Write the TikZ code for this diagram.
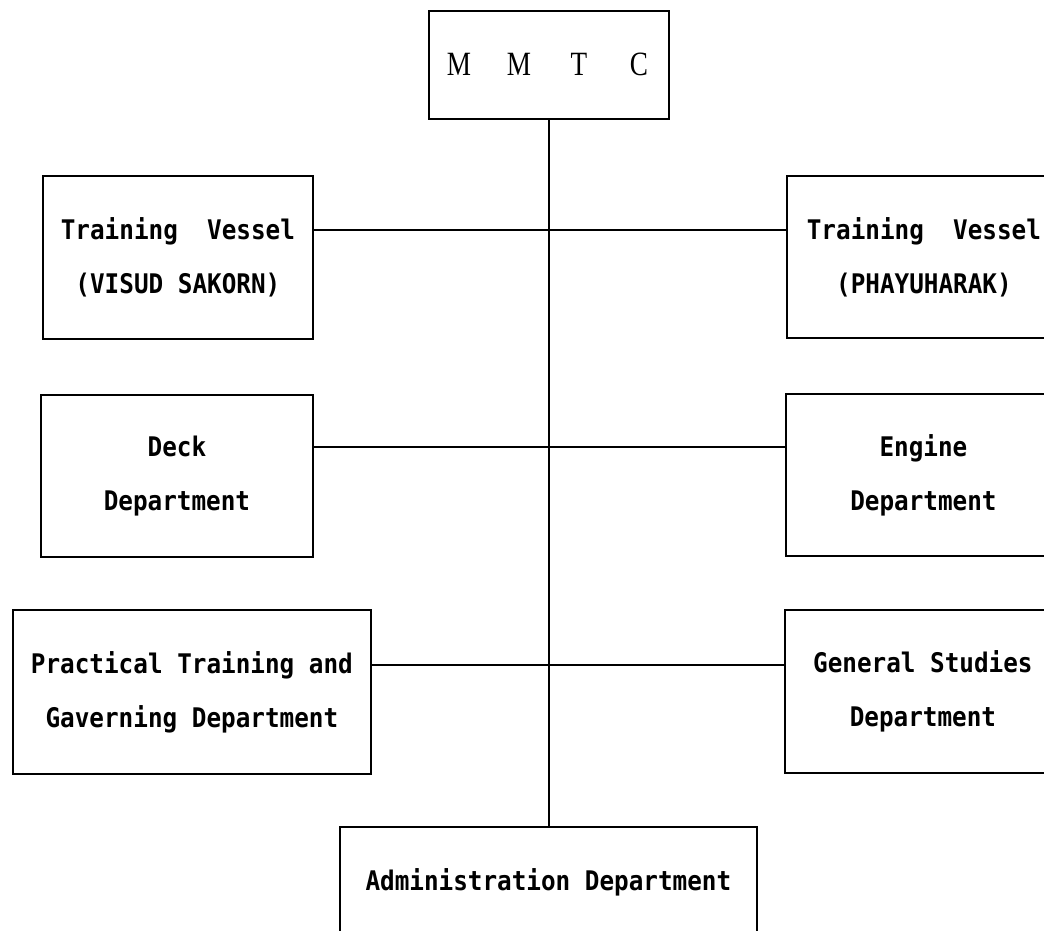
\documentclass[tikz,border=0pt]{standalone}
\usepackage{fontspec}
\newfontfamily\boxfont[FakeStretch=0.9]{DejaVu Sans Mono}
\newfontfamily\titlefont[FakeStretch=0.8]{Liberation Serif}
\begin{document}
\begin{tikzpicture}[x=1pt,y=-1pt,
  box/.style={draw, line width=1.8pt, anchor=north west, inner sep=0pt, align=center,
              font=\boxfont\bfseries\fontsize{27}{54}\selectfont},
  link/.style={line width=1.2pt}]
\useasboundingbox (0,0) rectangle (1044,930);
\clip (0,0) rectangle (1044,930);
\node[box, minimum width=240pt, minimum height=108pt,
      font=\titlefont\fontsize{34}{40}\selectfont] (mmtc) at (428,10)
  {\makebox[60pt]{M}\makebox[60pt]{M}\makebox[60pt]{T}\makebox[60pt]{C}};
\node[box, minimum width=270pt, minimum height=163pt] (tv1) at (42,175)
  {Training\ \ Vessel\\(VISUD SAKORN)};
\node[box, minimum width=274pt, minimum height=162pt] (tv2) at (786,175)
  {Training\ \ Vessel\\(PHAYUHARAK)};
\node[box, minimum width=272pt, minimum height=162pt] (deck) at (40,394)
  {Deck\\Department};
\node[box, minimum width=275pt, minimum height=162pt] (engine) at (785,393)
  {Engine\\Department};
\node[box, minimum width=358pt, minimum height=164pt] (prac) at (12,609)
  {Practical Training and\\Gaverning Department};
\node[box, minimum width=276pt, minimum height=163pt] (gen) at (784,609)
  {General Studies\\Department};
\node[box, minimum width=417pt, minimum height=110pt] (admin) at (339,826)
  {Administration Department};
\coordinate (r1) at (0,230);
\coordinate (r2) at (0,447);
\coordinate (r3) at (0,665);
\draw[link] (mmtc.south) -- (mmtc.south |- admin.north);
\draw[link] (tv1.east |- r1) -- (tv2.west |- r1);
\draw[link] (deck.east |- r2) -- (engine.west |- r2);
\draw[link] (prac.east |- r3) -- (gen.west |- r3);
\end{tikzpicture}
\end{document}
